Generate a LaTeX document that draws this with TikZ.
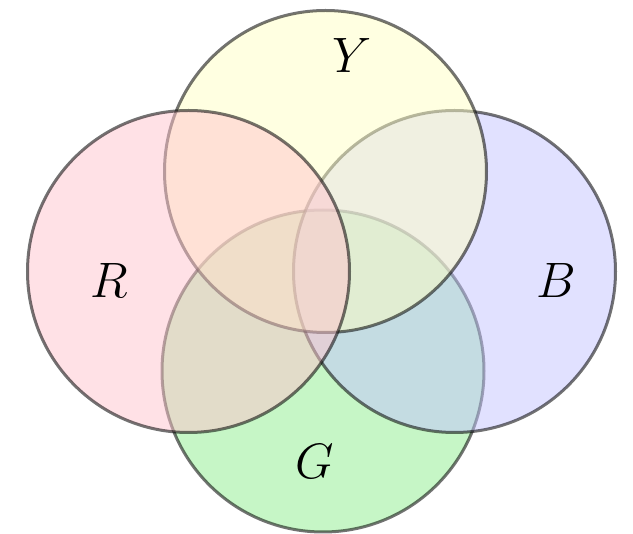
\documentclass[tikz,border=0pt]{standalone}
\begin{document}
\begin{tikzpicture}[x=0.5pt,y=-0.5pt,
  setc/.style={line width=1.5pt,draw=black,draw opacity=0.55,fill opacity=0.5},
  lbl/.style={inner sep=0pt,font=\fontsize{26}{30}\selectfont}]
\definecolor{cR}{RGB}{255,195,205}
\definecolor{cY}{RGB}{255,255,195}
\definecolor{cB}{RGB}{195,195,255}
\definecolor{cG}{RGB}{141,237,141}
\useasboundingbox (0,0) rectangle (633,534);
\coordinate (cg) at (323,371);
\coordinate (cb) at (454.5,271.5);
\coordinate (cy) at (325.5,171.5);
\coordinate (cr) at (188.5,271.5);
\draw[setc,fill=cG] (cg) circle[radius=80.5pt];
\draw[setc,fill=cB] (cb) circle[radius=80.5pt];
\draw[setc,fill=cY] (cy) circle[radius=80.5pt];
\draw[setc,fill=cR] (cr) circle[radius=80.5pt];
\node[lbl] (ly) at (352,56) {$Y$};
\node[lbl] (lr) at (109,281) {$R$};
\node[lbl] (lb) at (556,281) {$B$};
\node[lbl] (lg) at (315,462) {$G$};
\end{tikzpicture}
\end{document}
